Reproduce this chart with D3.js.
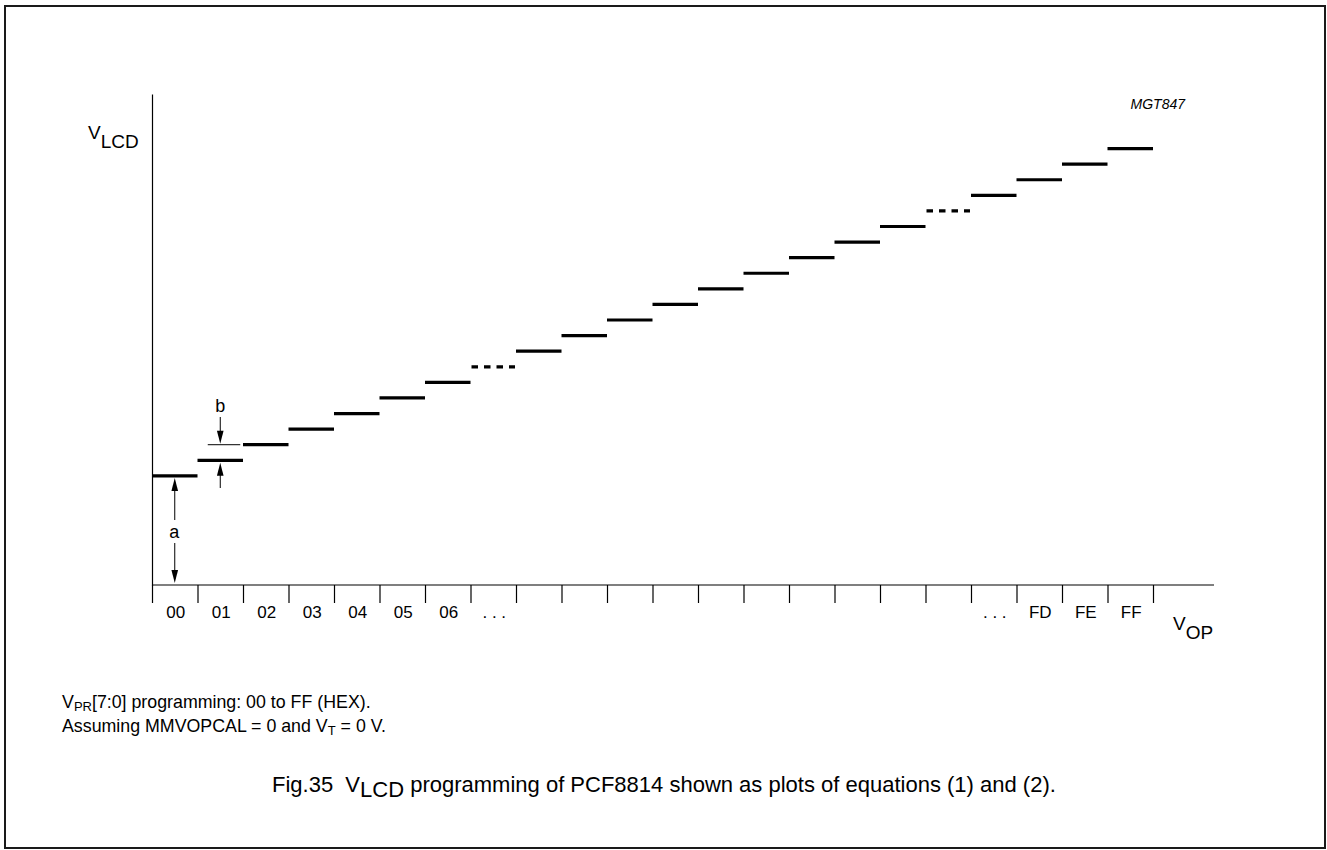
<!DOCTYPE html>
<html><head><meta charset="utf-8">
<script src="https://cdn.jsdelivr.net/npm/d3@7/dist/d3.min.js"></script>
<style>
body{margin:0;background:#fff}
svg{display:block}
text{font-family:"Liberation Sans",Arial,Helvetica,sans-serif;fill:#000}
</style>
</head><body>
<svg id="c" width="1327" height="850"></svg>
<script>
// ---- data ----
const slots = ["s0","s1","s2","s3","s4","s5","s6","s7","s8","s9","s10","s11","s12","s13","s14","s15","s16","s17","s18","s19","s20","s21"];
const tickLabels = ["00","01","02","03","04","05","06","...","","","","","","","","","","","...","FD","FE","FF"];
const levels = [7,8,9,10,11,12,13,14,15,16,17,18,19,20,21,22,23,24,25,26,27,28]; // in units of step b
const dottedSlots = ["s7","s17"];
const boundaries = [0,1,2,3,4,5,6,7,8,9,10,11,12,13,14,15,16,17,18,19,20,21,22];

const svg = d3.select("#c");
const L = 152, R = 1153, AXR = 1214, Y0 = 585, YT = 94;

const x = d3.scaleBand().domain(slots).range([L, R]).padding(0);
const xb = d3.scaleLinear().domain([0, slots.length]).range([L, R]);
const y = d3.scaleLinear().domain([0, 31.5]).range([Y0, YT]);

// frame
svg.append("rect").attr("x",5).attr("y",6).attr("width",1320).attr("height",842)
  .attr("fill","none").attr("stroke","#1a1a1a").attr("stroke-width",2);

// y axis
const ya = svg.append("g").attr("transform",`translate(${L},0)`)
  .call(d3.axisLeft(y).tickValues([]).tickSizeOuter(0));
ya.select(".domain").attr("stroke","#000").attr("stroke-width",1.2);

// x axis (ticks at slot boundaries)
const xa = svg.append("g").attr("transform",`translate(0,${Y0})`)
  .call(d3.axisBottom(xb).tickValues(boundaries).tickFormat("").tickSize(18).tickSizeOuter(0));
xa.select(".domain").remove();
xa.selectAll(".tick line").attr("stroke","#000").attr("stroke-width",1.2);
svg.append("line").attr("x1",L).attr("x2",AXR).attr("y1",Y0).attr("y2",Y0)
  .attr("stroke","#000").attr("stroke-width",1.2);

// tick labels centered in slots
svg.append("g").selectAll("text").data(slots).join("text")
  .attr("x", d => x(d) + x.bandwidth()/2 + 1)
  .attr("y", 618)
  .attr("text-anchor","middle")
  .attr("font-size", 17)
  .text((d,i) => tickLabels[i] === "..." ? ". . ." : tickLabels[i]);

// step bars
const data = slots.map((s,i) => ({s, v: levels[i], dotted: dottedSlots.includes(s)}));
svg.append("g").selectAll("line").data(data).join("line")
  .attr("x1", d => x(d.s) + (d.dotted ? 1 : 0))
  .attr("x2", d => x(d.s) + x.bandwidth() - (d.dotted ? 1 : 0))
  .attr("y1", d => y(d.v)).attr("y2", d => y(d.v))
  .attr("stroke","#000").attr("stroke-width",3.2)
  .attr("stroke-dasharray", d => d.dotted ? "6.5,6" : null);

// annotations: arrows
function arrowHead(g, cx, tipY, dir){ // dir -1 = pointing up, +1 pointing down
  const len = 13, hw = 3.3;
  g.append("path")
    .attr("d", `M${cx},${tipY} L${cx-hw},${tipY - dir*len} L${cx+hw},${tipY - dir*len} Z`)
    .attr("fill","#000");
}
const ann = svg.append("g");
// "a" dimension: from axis (0) to level of slot 0
const ax = x("s0") + x.bandwidth()/2;
const aTop = y(levels[0]) + 2, aBot = y(0) - 2;
ann.append("line").attr("x1",ax).attr("x2",ax).attr("y1",aTop+4).attr("y2",520).attr("stroke","#000").attr("stroke-width",1);
ann.append("line").attr("x1",ax).attr("x2",ax).attr("y1",543).attr("y2",aBot-4).attr("stroke","#000").attr("stroke-width",1);
arrowHead(ann, ax, aTop, -1);
arrowHead(ann, ax, aBot, 1);
ann.append("text").attr("x",ax-0.5).attr("y",538).attr("text-anchor","middle").attr("font-size",18).text("a");

// "b" dimension: step between slot 1 level and slot 2 level
const bx = x("s1") + x.bandwidth()/2;
const bRef = y(levels[2]);
ann.append("line").attr("x1",bx-12.5).attr("x2",bx+20).attr("y1",bRef).attr("y2",bRef).attr("stroke","#000").attr("stroke-width",1);
ann.append("line").attr("x1",bx).attr("x2",bx).attr("y1",417).attr("y2",bRef-6).attr("stroke","#000").attr("stroke-width",1);
arrowHead(ann, bx, bRef-1, 1);
const b1 = y(levels[1]) + 2.5;
ann.append("line").attr("x1",bx).attr("x2",bx).attr("y1",b1+6).attr("y2",488).attr("stroke","#000").attr("stroke-width",1);
arrowHead(ann, bx, b1, -1);
ann.append("text").attr("x",bx).attr("y",412).attr("text-anchor","middle").attr("font-size",18).text("b");

// axis titles
const vl = svg.append("text").attr("x",88).attr("y",139).attr("font-size",19);
vl.append("tspan").text("V");
vl.append("tspan").attr("dy",9).text("LCD");

const vo = svg.append("text").attr("x",1173).attr("y",630).attr("font-size",19);
vo.append("tspan").text("V");
vo.append("tspan").attr("dy",9).text("OP");

svg.append("text").attr("x",1185).attr("y",109).attr("text-anchor","end")
  .attr("font-size",14).attr("font-style","italic").text("MGT847");

// footnotes
const f1 = svg.append("text").attr("x",62).attr("y",708).attr("font-size",17.8);
f1.append("tspan").text("V");
f1.append("tspan").attr("font-size",13).attr("dy",3).text("PR");
f1.append("tspan").attr("dy",-3).text("[7:0] programming: 00 to FF (HEX).");
const f2 = svg.append("text").attr("x",62).attr("y",732).attr("font-size",17.8);
f2.append("tspan").text("Assuming MMVOPCAL = 0 and V");
f2.append("tspan").attr("font-size",13).attr("dy",3).text("T");
f2.append("tspan").attr("dy",-3).text(" = 0 V.");

// caption
const cap = svg.append("text").attr("x",272).attr("y",792).attr("font-size",22);
cap.append("tspan").text("Fig.35\u00a0\u00a0V");
cap.append("tspan").attr("dy",5).text("LCD");
cap.append("tspan").attr("dy",-5).text(" programming of PCF8814 shown as plots of equations (1) and (2).");
</script>
</body></html>
